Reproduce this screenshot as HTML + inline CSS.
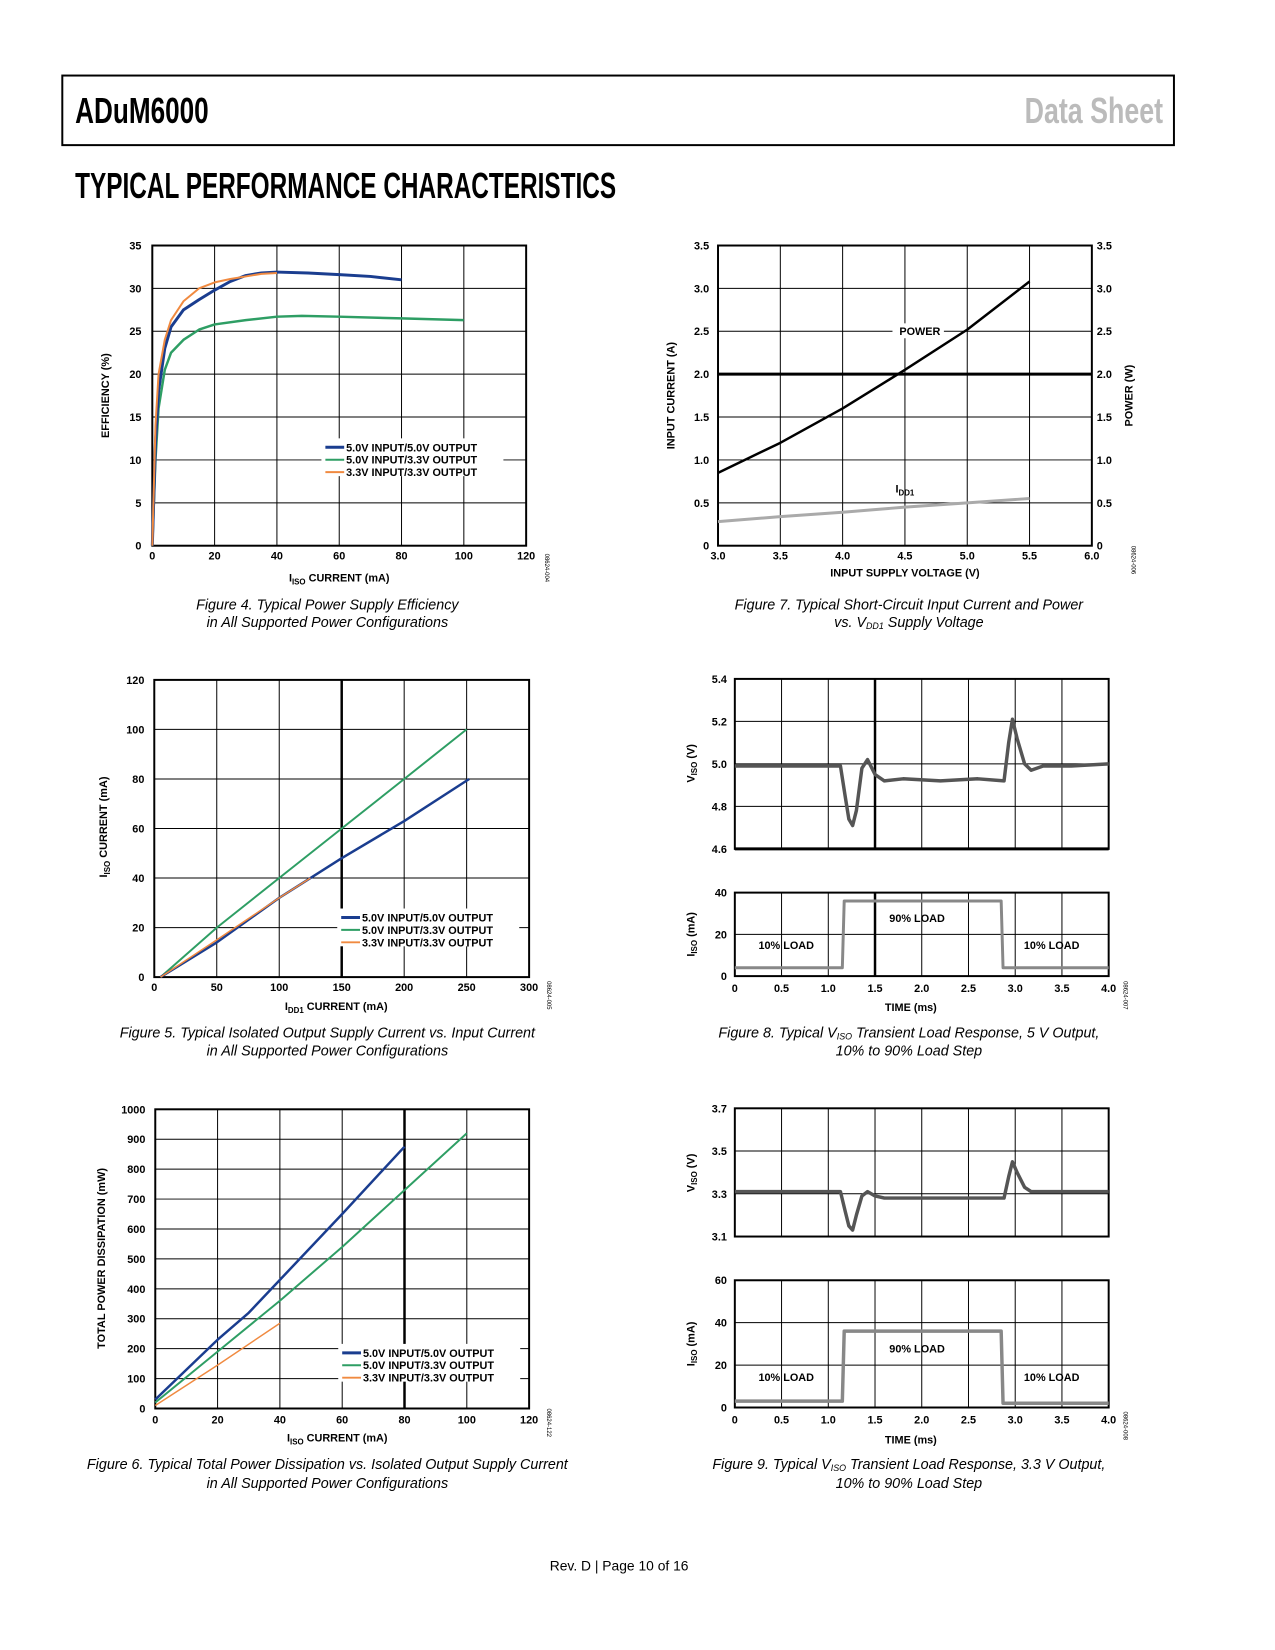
<!DOCTYPE html>
<html><head><meta charset="utf-8"><style>
html,body{margin:0;padding:0;background:#fff;}
svg{display:block;font-family:"Liberation Sans",sans-serif;}
</style></head><body>
<svg width="1275" height="1650" viewBox="0 0 1275 1650">
<g id="page" transform="scale(0.989 0.994)">
<rect x="63" y="76" width="1124" height="70" fill="none" stroke="#000" stroke-width="2"/>
<text x="76" y="124" font-size="36" font-weight="bold" textLength="135" lengthAdjust="spacingAndGlyphs">ADuM6000</text>
<text x="1036" y="124" font-size="36" font-weight="bold" fill="#bbb" textLength="140" lengthAdjust="spacingAndGlyphs">Data Sheet</text>
<text x="76" y="199" font-size="36" font-weight="bold" textLength="547" lengthAdjust="spacingAndGlyphs">TYPICAL PERFORMANCE CHARACTERISTICS</text>
<text x="626" y="1580" font-size="14" text-anchor="middle">Rev. D | Page 10 of 16</text>
</g>
</svg>
<script>
// Figure 4
const f4Blue_x=[0,1,2,4,6,10,15,20,25,30,35,40,50,60,70,80];
const f4Blue_y=[0,12,18,23,25.5,27.5,28.7,29.8,30.8,31.5,31.8,31.9,31.8,31.6,31.4,31.0];
const f4Green_x=[0,1,2,4,6,10,15,20,30,40,48,60,80,100];
const f4Green_y=[0,10,16,20.5,22.5,24,25.2,25.8,26.3,26.7,26.8,26.7,26.5,26.3];
const f4Orange_x=[0,1,2,4,6,10,15,20,25,30,35,40];
const f4Orange_y=[0,14,20,24,26.3,28.5,30,30.7,31.1,31.4,31.7,31.8];
const f4Xticks=[0,20,40,60,80,100,120];
const f4Yticks=[0,5,10,15,20,25,30,35];
// Figure 7
const f7V=[3.0,3.5,4.0,4.5,5.0,5.5];
const f7Power=[0.85,1.2,1.6,2.05,2.52,3.08];
const f7Idd=[0.28,0.34,0.39,0.45,0.5,0.55];
const f7Xticks=["3.0","3.5","4.0","4.5","5.0","5.5","6.0"];
const f7Yticks=["0","0.5","1.0","1.5","2.0","2.5","3.0","3.5"];
// Figure 5
const f5Blue_x=[5,50,100,150,200,252];
const f5Blue_y=[0,14,32,48,63,80];
const f5Green_x=[5,50,100,150,200,250];
const f5Green_y=[0,20,40,60,80,100];
const f5Orange_x=[5,50,100,125];
const f5Orange_y=[0,15,32,40];
const f5Xticks=[0,50,100,150,200,250,300];
const f5Yticks=[0,20,40,60,80,100,120];
// Figure 6
const f6Blue_x=[0,20,30,40,60,80];
const f6Blue_y=[30,230,320,430,650,875];
const f6Green_x=[0,20,40,60,80,100];
const f6Green_y=[20,190,360,540,730,920];
const f6Orange_x=[0,20,40];
const f6Orange_y=[10,145,285];
const f6Xticks=[0,20,40,60,80,100,120];
const f6Yticks=[0,100,200,300,400,500,600,700,800,900,1000];
// Figure 8
const f8T=[0,0.3,0.6,0.9,1.13,1.18,1.22,1.26,1.3,1.36,1.42,1.5,1.6,1.8,2.2,2.6,2.88,2.93,2.97,3.02,3.1,3.17,3.3,3.6,4.0];
const f8V=[4.99,4.99,4.99,4.99,4.99,4.85,4.74,4.71,4.78,4.98,5.02,4.95,4.92,4.93,4.92,4.93,4.92,5.10,5.21,5.12,5.0,4.97,4.99,4.99,5.0];
const f8It=[0,1.15,1.17,2.85,2.87,4.0];
const f8I=[4,4,36,36,4,4];
const f8Vticks=["4.6","4.8","5.0","5.2","5.4"];
const f8Iticks=[0,20,40];
const tTicks=["0","0.5","1.0","1.5","2.0","2.5","3.0","3.5","4.0"];
// Figure 9
const f9T=[0,0.3,0.6,0.9,1.13,1.18,1.22,1.26,1.3,1.36,1.42,1.5,1.6,1.8,2.2,2.6,2.88,2.93,2.97,3.02,3.1,3.17,3.3,3.6,4.0];
const f9V=[3.31,3.31,3.31,3.31,3.31,3.22,3.15,3.13,3.2,3.29,3.31,3.29,3.28,3.28,3.28,3.28,3.28,3.38,3.45,3.4,3.33,3.31,3.31,3.31,3.31];
const f9It=[0,1.15,1.17,2.85,2.87,4.0];
const f9I=[3,3,36,36,2,2];
const f9Vticks=["3.1","3.3","3.5","3.7"];
const f9Iticks=[0,20,40,60];

const NS="http://www.w3.org/2000/svg";
const svg=document.getElementById('page');
function mk(tag,attrs,name,parent){
  const el=document.createElementNS(NS,tag);
  for(const k in attrs) el.setAttribute(k,attrs[k]);
  
  
  (parent||svg).appendChild(el);
  return el;
}
function txt(x,y,s,size,name,extra){
  const a=Object.assign({x:x,y:y,'font-size':size,'font-weight':'bold'},extra||{});
  const el=mk('text',a,name);
  el.innerHTML=s;
  return el;
}
function axes(c){
  c.sx=v=>c.L+(v-c.x0)/(c.x1-c.x0)*(c.R-c.L);
  c.sy=v=>c.B-(v-c.y0)/(c.y1-c.y0)*(c.B-c.T);
  return c;
}
function grid(c,xt,yt,name,thickX,thickY){
  xt.forEach(v=>{const x=c.sx(+v);const w=(thickX!==undefined&&+v===thickX)?2.5:1;
    mk('line',{x1:x,y1:c.T,x2:x,y2:c.B,stroke:'#000','stroke-width':w},name+'-vgrid');});
  yt.forEach(v=>{const y=c.sy(+v);const w=(thickY!==undefined&&+v===thickY)?3:1;
    mk('line',{x1:c.L,y1:y,x2:c.R,y2:y,stroke:'#000','stroke-width':w},name+'-hgrid');});
  mk('rect',{x:c.L,y:c.T,width:c.R-c.L,height:c.B-c.T,fill:'none',stroke:'#000','stroke-width':2},name+'-frame');
}
function yTicks(c,yt,name,xpos,anchor){
  yt.forEach(v=>txt(xpos,c.sy(+v)+4,String(v),11,name+'-ytick',{'text-anchor':anchor||'end'}));
}
function xTicks(c,xt,name,ypos){
  xt.forEach(v=>txt(c.sx(+v),ypos,String(v),11,name+'-xtick',{'text-anchor':'middle'}));
}
function series(c,xs,ys,color,w,name){
  const d=xs.map((v,i)=>(i?'L':'M')+c.sx(v).toFixed(1)+','+c.sy(ys[i]).toFixed(1)).join(' ');
  mk('path',{d:d,fill:'none',stroke:color,'stroke-width':w,'stroke-linejoin':'round'},name);
}
function ytitle(x,y,s,name){txt(x,y,s,11,name,{'text-anchor':'middle',transform:'rotate(-90 '+x+' '+y+')'});}
function caption(cx,y,s,name){const el=mk('text',{x:cx,y:y,'font-size':14.5,'font-style':'italic','text-anchor':'middle'},name);el.innerHTML=s;}
function code(x,y,s,name){txt(x,y,s,6,name,{'font-weight':'normal',transform:'rotate(90 '+x+' '+y+')'});}
function legend(x,y,name){
  mk('rect',{x:x-4,y:y-9,width:184,height:38,fill:'#fff'},name+'-bg');
  const cols=['#1a3d8f','#2e9e64','#f08a40'];
  const labs=['5.0V INPUT/5.0V OUTPUT','5.0V INPUT/3.3V OUTPUT','3.3V INPUT/3.3V OUTPUT'];
  labs.forEach((l,i)=>{
    mk('line',{x1:x,y1:y+i*12.5,x2:x+19,y2:y+i*12.5,stroke:cols[i],'stroke-width':i?2:3},name+'-swatch');
    txt(x+21,y+i*12.5+4,l,11,name+'-entry');
  });
}
const BLUE='#1a3d8f',GREEN='#2e9e64',ORANGE='#f08a40';

// Fig 4
let c=axes({L:154,R:532,T:247,B:549,x0:0,x1:120,y0:0,y1:35});
grid(c,f4Xticks,f4Yticks,'fig4');
series(c,f4Green_x,f4Green_y,GREEN,2.5,'fig4-series-5v-3v3');
series(c,f4Blue_x,f4Blue_y,BLUE,3,'fig4-series-5v-5v');
series(c,f4Orange_x,f4Orange_y,ORANGE,2,'fig4-series-3v3-3v3');
yTicks(c,f4Yticks,'fig4',143);xTicks(c,f4Xticks,'fig4',563);
txt(343,585,'I<tspan font-size="8" dy="3">ISO</tspan><tspan dy="-3"> CURRENT (mA)</tspan>',11,'fig4-x-title',{'text-anchor':'middle'});
ytitle(110,398,'EFFICIENCY (%)','fig4-y-title');
legend(329,450,'fig4-legend');
code(551,557,'08624-004','fig4-code');
caption(331,613,'Figure 4. Typical Power Supply Efficiency','fig4-caption-1');
caption(331,631,'in All Supported Power Configurations','fig4-caption-2');

// Fig 7
c=axes({L:726,R:1104,T:247,B:549,x0:3,x1:6,y0:0,y1:3.5});
grid(c,f7Xticks,f7Yticks,'fig7',undefined,2);
series(c,f7V,f7Idd,'#aaa',3,'fig7-series-idd1');
series(c,f7V,f7Power,'#000',2.5,'fig7-series-power');
yTicks(c,f7Yticks,'fig7',717);yTicks(c,f7Yticks,'fig7-right',1109,'start');
xTicks(c,f7Xticks,'fig7',563);
txt(915,580,'INPUT SUPPLY VOLTAGE (V)',11,'fig7-x-title',{'text-anchor':'middle'});
ytitle(682,398,'INPUT CURRENT (A)','fig7-y-title');
ytitle(1145,398,'POWER (W)','fig7-y2-title');
mk('rect',{x:c.sx(4.4),y:c.sy(2.5)-8,width:52,height:15,fill:'#fff'},'fig7-power-label-bg');
txt(c.sx(4.62),c.sy(2.5)+4,'POWER',11,'fig7-power-label',{'text-anchor':'middle'});
txt(c.sx(4.5),c.sy(0.62),'I<tspan font-size="8" dy="3">DD1</tspan>',11,'fig7-idd1-label',{'text-anchor':'middle'});
code(1144,549,'08624-006','fig7-code');
caption(919,613,'Figure 7. Typical Short-Circuit Input Current and Power','fig7-caption-1');
caption(919,631,'vs. V<tspan font-size="9" dy="2">DD1</tspan><tspan dy="-2"> Supply Voltage</tspan>','fig7-caption-2');

// Fig 5
c=axes({L:156,R:535,T:684,B:983,x0:0,x1:300,y0:0,y1:120});
grid(c,f5Xticks,f5Yticks,'fig5',150);
series(c,f5Green_x,f5Green_y,GREEN,2,'fig5-series-5v-3v3');
series(c,f5Blue_x,f5Blue_y,BLUE,2.5,'fig5-series-5v-5v');
series(c,f5Orange_x,f5Orange_y,ORANGE,1.5,'fig5-series-3v3-3v3');
yTicks(c,f5Yticks,'fig5',146);xTicks(c,f5Xticks,'fig5',997);
txt(340,1016,'I<tspan font-size="8" dy="3">DD1</tspan><tspan dy="-3"> CURRENT (mA)</tspan>',11,'fig5-x-title',{'text-anchor':'middle'});
ytitle(108,832,'I<tspan font-size="8" dy="3">ISO</tspan><tspan dy="-3"> CURRENT (mA)</tspan>','fig5-y-title');
legend(345,923,'fig5-legend');
code(553,987,'08624-005','fig5-code');
caption(331,1044,'Figure 5. Typical Isolated Output Supply Current vs. Input Current','fig5-caption-1');
caption(331,1062,'in All Supported Power Configurations','fig5-caption-2');

// Fig 6
c=axes({L:157,R:535,T:1116,B:1417,x0:0,x1:120,y0:0,y1:1000});
grid(c,f6Xticks,f6Yticks,'fig6',80);
series(c,f6Green_x,f6Green_y,GREEN,2,'fig6-series-5v-3v3');
series(c,f6Blue_x,f6Blue_y,BLUE,2.5,'fig6-series-5v-5v');
series(c,f6Orange_x,f6Orange_y,ORANGE,1.5,'fig6-series-3v3-3v3');
yTicks(c,f6Yticks,'fig6',147);xTicks(c,f6Xticks,'fig6',1432);
txt(341,1450,'I<tspan font-size="8" dy="3">ISO</tspan><tspan dy="-3"> CURRENT (mA)</tspan>',11,'fig6-x-title',{'text-anchor':'middle'});
ytitle(106,1266,'TOTAL POWER DISSIPATION (mW)','fig6-y-title');
legend(346,1361,'fig6-legend');
code(553,1417,'08624-122','fig6-code');
caption(331,1478,'Figure 6. Typical Total Power Dissipation vs. Isolated Output Supply Current','fig6-caption-1');
caption(331,1497,'in All Supported Power Configurations','fig6-caption-2');

// Fig 8
c=axes({L:743,R:1121,T:683,B:854,x0:0,x1:4,y0:4.6,y1:5.4});
grid(c,tTicks,f8Vticks,'fig8-top',1.5,4.6);
series(c,f8T,f8V,'#555',3.5,'fig8-viso-trace');
yTicks(c,f8Vticks,'fig8-top',735);
ytitle(702,768,'V<tspan font-size="8" dy="3">ISO</tspan><tspan dy="-3"> (V)</tspan>','fig8-viso-title');
let d=axes({L:743,R:1121,T:898,B:982,x0:0,x1:4,y0:0,y1:40});
grid(d,tTicks,f8Iticks,'fig8-bottom',1.5);
series(d,f8It,f8I,'#888',3,'fig8-iso-trace');
yTicks(d,f8Iticks,'fig8-bottom',735);xTicks(d,tTicks,'fig8',998);
ytitle(702,940,'I<tspan font-size="8" dy="3">ISO</tspan><tspan dy="-3"> (mA)</tspan>','fig8-iso-title');
txt(d.sx(1.95),d.sy(26),'90% LOAD',11,'fig8-90-label',{'text-anchor':'middle'});
txt(d.sx(0.55),d.sy(13),'10% LOAD',11,'fig8-10-label-left',{'text-anchor':'middle'});
txt(d.sx(3.39),d.sy(13),'10% LOAD',11,'fig8-10-label-right',{'text-anchor':'middle'});
txt(921,1017,'TIME (ms)',11,'fig8-x-title',{'text-anchor':'middle'});
code(1136,987,'08624-007','fig8-code');
caption(919,1044,'Figure 8. Typical V<tspan font-size="9" dy="2">ISO</tspan><tspan dy="-2"> Transient Load Response, 5 V Output,</tspan>','fig8-caption-1');
caption(919,1062,'10% to 90% Load Step','fig8-caption-2');

// Fig 9
c=axes({L:743,R:1121,T:1115,B:1244,x0:0,x1:4,y0:3.1,y1:3.7});
grid(c,tTicks,f9Vticks,'fig9-top');
series(c,f9T,f9V,'#555',3.5,'fig9-viso-trace');
yTicks(c,f9Vticks,'fig9-top',735);
ytitle(702,1180,'V<tspan font-size="8" dy="3">ISO</tspan><tspan dy="-3"> (V)</tspan>','fig9-viso-title');
d=axes({L:743,R:1121,T:1288,B:1416,x0:0,x1:4,y0:0,y1:60});
grid(d,tTicks,f9Iticks,'fig9-bottom');
series(d,f9It,f9I,'#888',3.5,'fig9-iso-trace');
yTicks(d,f9Iticks,'fig9-bottom',735);xTicks(d,tTicks,'fig9',1432);
ytitle(702,1352,'I<tspan font-size="8" dy="3">ISO</tspan><tspan dy="-3"> (mA)</tspan>','fig9-iso-title');
txt(d.sx(1.95),d.sy(26),'90% LOAD',11,'fig9-90-label',{'text-anchor':'middle'});
txt(d.sx(0.55),d.sy(12.5),'10% LOAD',11,'fig9-10-label-left',{'text-anchor':'middle'});
txt(d.sx(3.39),d.sy(12.5),'10% LOAD',11,'fig9-10-label-right',{'text-anchor':'middle'});
txt(921,1452,'TIME (ms)',11,'fig9-x-title',{'text-anchor':'middle'});
code(1136,1420,'08624-008','fig9-code');
caption(919,1478,'Figure 9. Typical V<tspan font-size="9" dy="2">ISO</tspan><tspan dy="-2"> Transient Load Response, 3.3 V Output,</tspan>','fig9-caption-1');
caption(919,1497,'10% to 90% Load Step','fig9-caption-2');
</script>
</body></html>
